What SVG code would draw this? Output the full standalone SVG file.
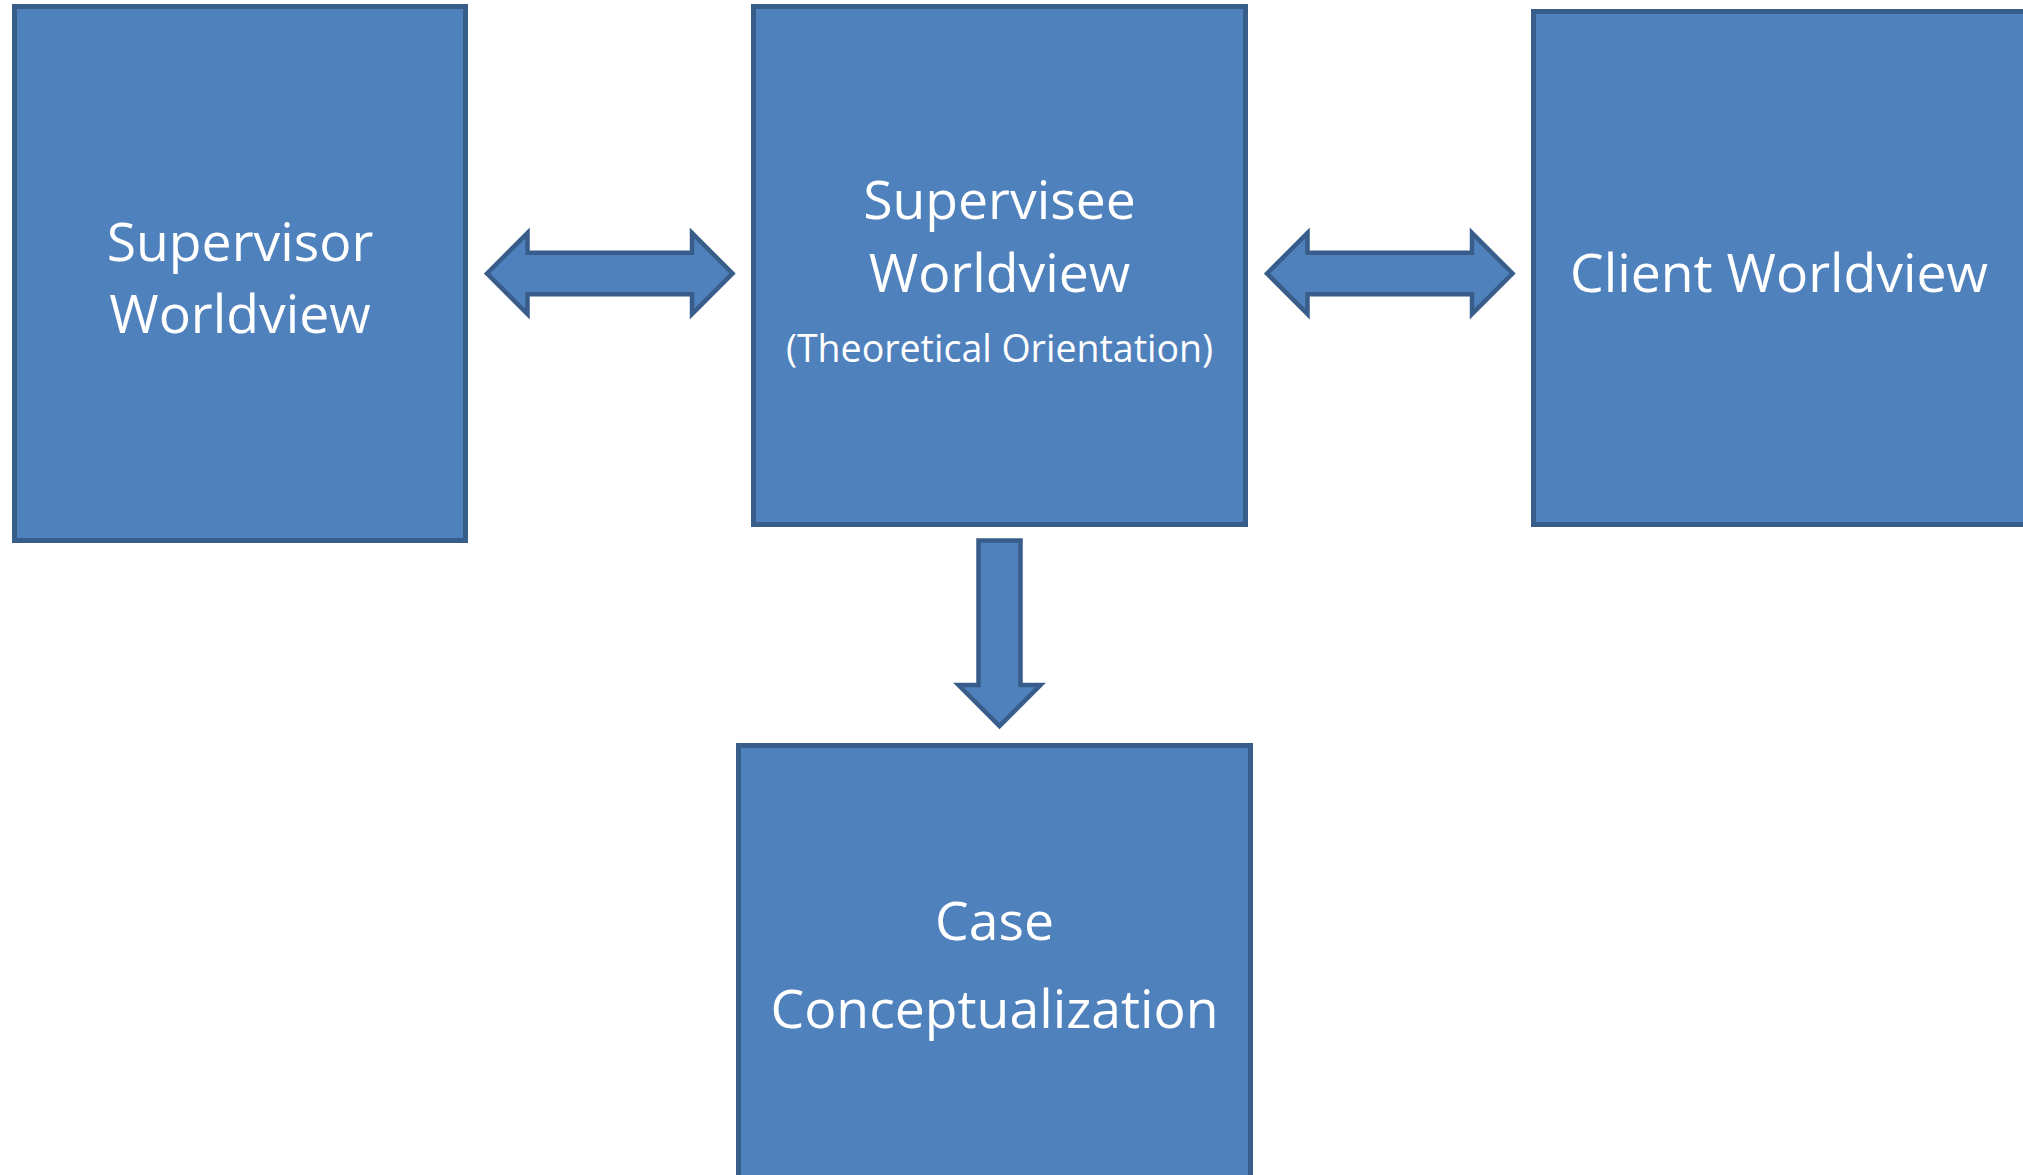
<svg xmlns="http://www.w3.org/2000/svg" width="2023" height="1175" viewBox="0 0 2023 1175">
<style>
.box{fill:#4F81BD;stroke:#385D8A;stroke-width:5}
.arr{fill:#4F81BD;stroke:#385D8A;stroke-width:4.5;stroke-linejoin:miter}
.lbl{fill:#FFFFFF;font-family:"Open Sans","Noto Sans",sans-serif;font-size:53.5px;text-anchor:middle}
.sub{fill:#FFFFFF;font-family:"Open Sans","Noto Sans",sans-serif;font-size:37.5px;text-anchor:middle}
</style>
<rect width="2023" height="1175" fill="#FFFFFF"/>
<g id="supervisor">
<rect class="box" x="14.5" y="6.5" width="451" height="534"/>
<text class="lbl" x="240" y="261">Supervisor</text>
<text class="lbl" x="240" y="333">Worldview</text>
</g>
<g id="supervisee">
<rect class="box" x="753.5" y="6.5" width="492" height="518"/>
<text class="lbl" x="999.5" y="219">Supervisee</text>
<text class="lbl" x="999.5" y="292">Worldview</text>
<text class="sub" x="999.5" y="362">(Theoretical Orientation)</text>
</g>
<g id="client">
<rect class="box" x="1533.5" y="11.5" width="500" height="513"/>
<text class="lbl" x="1779" y="292">Client Worldview</text>
</g>
<g id="case">
<rect class="box" x="738.5" y="745.5" width="512" height="500"/>
<text class="lbl" x="994.5" y="940">Case</text>
<text class="lbl" x="994.5" y="1028">Conceptualization</text>
</g>
<g id="connectors">
<path class="arr" d="M487,273.5 L527.5,233 L527.5,252.7 L692,252.7 L692,233 L732.5,273.5 L692,314 L692,294.3 L527.5,294.3 L527.5,314 Z"/>
<path class="arr" d="M1267,273.5 L1307.5,233 L1307.5,252.7 L1472,252.7 L1472,233 L1512.5,273.5 L1472,314 L1472,294.3 L1307.5,294.3 L1307.5,314 Z"/>
<path class="arr" d="M978.5,540.5 L1020.5,540.5 L1020.5,685 L1040.5,685 L999.5,726 L958.5,685 L978.5,685 Z"/>
</g>
</svg>
